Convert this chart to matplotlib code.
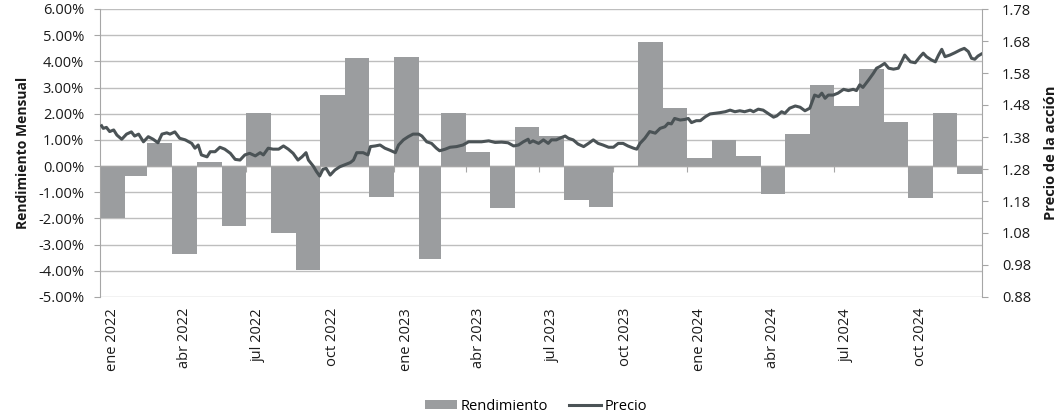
import matplotlib
matplotlib.use("Agg")
import matplotlib.pyplot as plt
import matplotlib.dates as mdates
import matplotlib.ticker as mticker
import pandas as pd
import numpy as np

plt.rcParams['font.family'] = ['Open Sans', 'DejaVu Sans']

# ---------------- data ----------------
meses = pd.date_range("2022-01-01", periods=36, freq="MS")
rendimiento = [
    -2.00, -0.37, 0.89, -3.35, 0.17, -2.30, 2.02, -2.54, -3.96, 2.72, 4.11, -1.19,
    4.15, -3.55, 2.02, 0.55, -1.61, 1.49, 1.14, -1.29, -1.57, 0.00, 4.74, 2.23,
    0.31, 0.98, 0.37, -1.05, 1.23, 3.09, 2.31, 3.70, 1.69, -1.23, 2.04, -0.31,
]

fechas_precio = [
    "2022-01-03", "2022-01-05", "2022-01-09", "2022-01-13", "2022-01-18", "2022-01-22", "2022-01-28",
    "2022-02-03", "2022-02-09", "2022-02-13", "2022-02-18", "2022-02-24", "2022-03-02", "2022-03-08",
    "2022-03-14", "2022-03-19", "2022-03-25", "2022-03-29", "2022-04-04", "2022-04-10", "2022-04-17",
    "2022-04-25", "2022-04-29", "2022-05-03", "2022-05-07", "2022-05-14", "2022-05-18", "2022-05-24",
    "2022-05-30", "2022-06-05", "2022-06-12", "2022-06-18", "2022-06-24", "2022-06-30", "2022-07-06",
    "2022-07-13", "2022-07-19", "2022-07-23", "2022-07-29", "2022-08-04", "2022-08-11", "2022-08-17",
    "2022-08-23", "2022-08-29", "2022-09-04", "2022-09-09", "2022-09-14", "2022-09-17", "2022-09-23",
    "2022-09-27", "2022-10-01", "2022-10-05", "2022-10-09", "2022-10-14", "2022-10-20", "2022-10-26",
    "2022-11-01", "2022-11-08", "2022-11-12", "2022-11-16", "2022-11-24", "2022-11-30", "2022-12-03",
    "2022-12-09", "2022-12-15", "2022-12-21", "2022-12-27", "2023-01-03", "2023-01-07", "2023-01-13",
    "2023-01-19", "2023-01-25", "2023-02-01", "2023-02-05", "2023-02-11", "2023-02-17", "2023-02-23",
    "2023-02-27", "2023-03-06", "2023-03-12", "2023-03-20", "2023-03-28", "2023-04-04", "2023-04-12",
    "2023-04-20", "2023-04-29", "2023-05-07", "2023-05-15", "2023-05-23", "2023-05-30", "2023-06-05",
    "2023-06-11", "2023-06-17", "2023-06-19", "2023-06-23", "2023-06-30", "2023-07-06", "2023-07-12",
    "2023-07-16", "2023-07-22", "2023-07-29", "2023-08-02", "2023-08-06", "2023-08-12", "2023-08-18",
    "2023-08-25", "2023-08-31", "2023-09-06", "2023-09-12", "2023-09-18", "2023-09-25", "2023-10-01",
    "2023-10-07", "2023-10-13", "2023-10-19", "2023-10-26", "2023-10-30", "2023-11-03", "2023-11-09",
    "2023-11-15", "2023-11-22", "2023-11-28", "2023-12-04", "2023-12-08", "2023-12-12", "2023-12-16",
    "2023-12-23", "2023-12-29", "2024-01-02", "2024-01-06", "2024-01-12", "2024-01-17", "2024-01-23",
    "2024-01-29", "2024-02-04", "2024-02-10", "2024-02-17", "2024-02-23", "2024-02-29", "2024-03-06",
    "2024-03-12", "2024-03-19", "2024-03-23", "2024-03-29", "2024-04-04", "2024-04-10", "2024-04-17",
    "2024-04-21", "2024-04-27", "2024-05-01", "2024-05-07", "2024-05-14", "2024-05-20", "2024-05-26",
    "2024-06-01", "2024-06-07", "2024-06-12", "2024-06-16", "2024-06-20", "2024-06-24", "2024-06-30",
    "2024-07-06", "2024-07-13", "2024-07-19", "2024-07-25", "2024-07-29", "2024-08-02", "2024-08-06",
    "2024-08-13", "2024-08-19", "2024-08-23", "2024-08-27", "2024-09-02", "2024-09-07", "2024-09-13",
    "2024-09-19", "2024-09-23", "2024-09-27", "2024-10-04", "2024-10-10", "2024-10-16", "2024-10-20",
    "2024-10-24", "2024-10-30", "2024-11-04", "2024-11-08", "2024-11-12", "2024-11-16", "2024-11-22",
    "2024-11-28", "2024-12-05", "2024-12-10", "2024-12-15", "2024-12-19", "2024-12-23", "2024-12-27",
    "2024-12-31",
]
precio = [
    1.415, 1.407, 1.410, 1.397, 1.402, 1.386, 1.373,
    1.389, 1.396, 1.383, 1.389, 1.365, 1.381, 1.373,
    1.362, 1.389, 1.393, 1.389, 1.396, 1.376, 1.371,
    1.360, 1.345, 1.355, 1.324, 1.318, 1.334, 1.334,
    1.348, 1.342, 1.329, 1.310, 1.308, 1.324, 1.329,
    1.321, 1.331, 1.324, 1.345, 1.342, 1.342, 1.352,
    1.342, 1.329, 1.308, 1.318, 1.331, 1.308, 1.289,
    1.272, 1.258, 1.279, 1.282, 1.261, 1.277, 1.287,
    1.293, 1.300, 1.308, 1.331, 1.331, 1.324, 1.350,
    1.352, 1.355, 1.345, 1.339, 1.331, 1.355, 1.371,
    1.381, 1.389, 1.389, 1.383, 1.365, 1.360, 1.345,
    1.337, 1.342, 1.348, 1.350, 1.355, 1.365, 1.365,
    1.365, 1.368, 1.363, 1.364, 1.362, 1.352, 1.355,
    1.365, 1.373, 1.362, 1.368, 1.360, 1.371, 1.360,
    1.371, 1.371, 1.379, 1.383, 1.376, 1.371, 1.358,
    1.350, 1.360, 1.371, 1.360, 1.355, 1.348, 1.348,
    1.360, 1.360, 1.352, 1.345, 1.342, 1.360, 1.376,
    1.397, 1.392, 1.407, 1.412, 1.423, 1.421, 1.438,
    1.433, 1.435, 1.438, 1.425, 1.431, 1.431, 1.443,
    1.452, 1.454, 1.456, 1.459, 1.464, 1.459, 1.462,
    1.459, 1.464, 1.459, 1.467, 1.464, 1.454, 1.442,
    1.446, 1.459, 1.454, 1.470, 1.477, 1.473, 1.462,
    1.470, 1.511, 1.506, 1.517, 1.501, 1.511, 1.511,
    1.517, 1.529, 1.525, 1.529, 1.525, 1.543, 1.535,
    1.558, 1.579, 1.595, 1.600, 1.610, 1.595, 1.592,
    1.595, 1.615, 1.636, 1.615, 1.612, 1.631, 1.642,
    1.631, 1.621, 1.615, 1.636, 1.654, 1.631, 1.636,
    1.643, 1.652, 1.657, 1.647, 1.626, 1.623, 1.633,
    1.639,
]

etiquetas_x = ["ene 2022", "abr 2022", "jul 2022", "oct 2022",
               "ene 2023", "abr 2023", "jul 2023", "oct 2023",
               "ene 2024", "abr 2024", "jul 2024", "oct 2024"]

# ---------------- figure ----------------
BAR_COLOR = "#9b9d9f"
LINE_COLOR = "#4b5356"
GRID_COLOR = "#bebebe"
AXIS_COLOR = "#a6a6a6"
TEXT_COLOR = "#1a1a1a"
FS = 10.5

fig = plt.figure(figsize=(10.61, 4.18), dpi=100)
ax = fig.add_axes([100 / 1061, 1 - 297 / 418, (982 - 100) / 1061, (297 - 9) / 418])

inicio = mdates.date2num(meses)
fin = mdates.date2num(meses + pd.offsets.MonthBegin(1))
anchos = fin - inicio
ax.bar(inicio, np.array(rendimiento) / 100, width=anchos, align="edge",
       color=BAR_COLOR, edgecolor="none", zorder=2, label="Rendimiento")

ax.set_ylim(-0.05, 0.06)
ax.set_yticks(np.arange(-0.05, 0.0601, 0.01))
ax.yaxis.set_major_formatter(mticker.FuncFormatter(lambda v, p: f"{v*100:.2f}%"))
ax.set_xlim(inicio[0], fin[-1])
ax.grid(axis="y", color=GRID_COLOR, linewidth=1.0, zorder=0)
ax.set_axisbelow(True)

# x tick labels centered on the month bars
centros = inicio[::3] + anchos[::3] / 2
ax.set_xticks(centros)
ax.set_xticklabels(etiquetas_x, rotation=90, fontsize=FS, color=TEXT_COLOR)
ax.tick_params(axis="x", length=0, pad=8)

for s in ["top", "right", "bottom"]:
    ax.spines[s].set_visible(False)
ax.spines["left"].set_color(AXIS_COLOR)
ax.tick_params(axis="y", direction="out", length=4.5, color=AXIS_COLOR,
               labelsize=FS, labelcolor=TEXT_COLOR, pad=7)
ax.set_ylabel("Rendimiento Mensual", fontsize=10, fontweight="bold",
              color=TEXT_COLOR, labelpad=6)

# horizontal category axis at zero with quarter tick marks
ax.axhline(0, color=AXIS_COLOR, linewidth=1.0, zorder=3)
sec = ax.secondary_xaxis(5 / 11)
sec.set_xticks(inicio[::3][1:])
sec.set_xticklabels([])
sec.xaxis.set_ticks_position("bottom")
sec.tick_params(axis="x", direction="out", length=4, color=AXIS_COLOR,
                labelbottom=False, labeltop=False)
for s in sec.spines.values():
    s.set_visible(False)

# price on secondary axis
ax2 = ax.twinx()
fechas_num = mdates.date2num(pd.to_datetime(fechas_precio))
ax2.plot(fechas_num, precio, color=LINE_COLOR, linewidth=2.2, zorder=4, label="Precio")
ax2.set_ylim(0.88, 1.78)
ax2.set_yticks(np.arange(0.88, 1.781, 0.1))
ax2.yaxis.set_major_formatter(mticker.FormatStrFormatter("%.2f"))
for s in ["top", "left", "bottom"]:
    ax2.spines[s].set_visible(False)
ax2.spines["right"].set_color(AXIS_COLOR)
ax2.tick_params(axis="y", direction="out", length=4.5, color=AXIS_COLOR,
                labelsize=FS, labelcolor=TEXT_COLOR, pad=10)
ax2.set_ylabel("Precio de la acción", fontsize=10.5, fontweight="bold",
               color=TEXT_COLOR, labelpad=9)
ax2.set_xlim(inicio[0], fin[-1])

# legend
h1, l1 = ax.get_legend_handles_labels()
h2, l2 = ax2.get_legend_handles_labels()
fig.legend(h1 + h2, l1 + l2, loc="center", bbox_to_anchor=(536 / 1061, 1 - 406 / 418),
           ncol=2, frameon=False, fontsize=FS, handlelength=2.2, handleheight=0.6,
           columnspacing=1.4, handletextpad=0.25)

fig.savefig("out.png", dpi=100)
